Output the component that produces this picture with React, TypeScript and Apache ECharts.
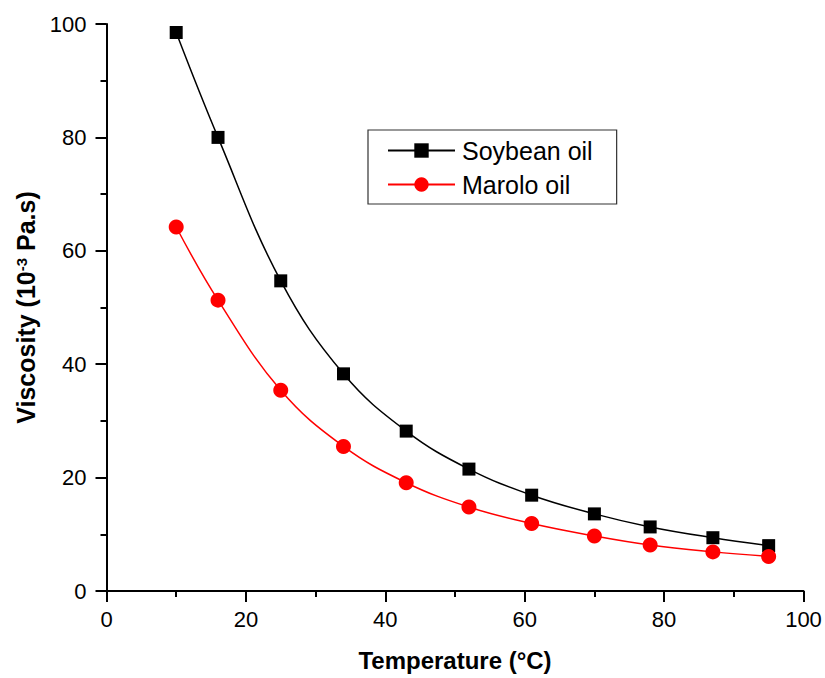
import React, { useEffect, useRef } from "react";
import * as echarts from "echarts";

const temperatures = [10, 16, 25, 34, 43, 52, 61, 70, 78, 87, 95];
const soybeanOil = [98.5, 80.0, 54.7, 38.3, 28.2, 21.5, 16.9, 13.6, 11.3, 9.4, 8.0];
const maroloOil = [64.2, 51.3, 35.4, 25.5, 19.1, 14.8, 11.9, 9.7, 8.1, 6.9, 6.1];
const seriesNames = ["Soybean oil", "Marolo oil"];

export default function App() {
  const ref = useRef<HTMLDivElement>(null);
  useEffect(() => {
    if (!ref.current) return;
    const chart = echarts.init(ref.current, null, { renderer: "svg" });
    const font = "Liberation Sans, Arial, sans-serif";
    chart.setOption({
      animation: false,
      backgroundColor: "#ffffff",
      grid: { left: 106.5, right: 21.5, top: 24, bottom: 87, containLabel: false },
      legend: {
        left: 368,
        top: 130,
        orient: "vertical",
        itemWidth: 67,
        itemHeight: 18,
        itemGap: 9,
        padding: [8, 24, 7, 19],
        borderColor: "#333",
        borderWidth: 1.2,
        borderRadius: 0,
        textStyle: { fontFamily: font, fontSize: 25, lineHeight: 25, color: "#000", padding: [0, 0, 0, 2] },
        data: seriesNames,
      },
      xAxis: {
        type: "value",
        min: 0,
        max: 100,
        interval: 20,
        name: "Temperature (°C)",
        nameLocation: "middle",
        nameGap: 57,
        nameTextStyle: { fontFamily: font, fontSize: 24, fontWeight: "bold", color: "#000" },
        axisLine: { show: true, onZero: false, lineStyle: { color: "#000", width: 2 } },
        axisTick: { show: true, inside: false, length: 11, lineStyle: { width: 2, color: "#000" } },
        minorTick: { show: true, splitNumber: 2, length: 6, lineStyle: { width: 2, color: "#000" } },
        axisLabel: { fontFamily: font, fontSize: 22, color: "#000", margin: 17 },
        splitLine: { show: false },
      },
      yAxis: {
        type: "value",
        min: 0,
        max: 100,
        interval: 20,
        name: "{a|Viscosity (10}{s|-3}{a| Pa.s)}",
        nameLocation: "middle",
        nameGap: 68,
        nameRotate: 90,
        nameTextStyle: {
          rich: {
            a: { fontFamily: font, fontSize: 25, fontWeight: "bold", color: "#000" },
            s: { fontFamily: font, fontSize: 15, fontWeight: "bold", color: "#000", verticalAlign: "top", padding: [0, 0, 10, 0] },
          },
        },
        axisLine: { show: true, onZero: false, lineStyle: { color: "#000", width: 2 } },
        axisTick: { show: true, inside: false, length: 11, lineStyle: { width: 2, color: "#000" } },
        minorTick: { show: true, splitNumber: 2, length: 6, lineStyle: { width: 2, color: "#000" } },
        axisLabel: { fontFamily: font, fontSize: 22, color: "#000", margin: 20 },
        splitLine: { show: false },
      },
      series: [
        {
          name: seriesNames[0],
          type: "line",
          data: temperatures.map((t, i) => [t, soybeanOil[i]]),
          smooth: 0.4,
          symbol: "rect",
          symbolSize: 13,
          itemStyle: { color: "#000" },
          lineStyle: { color: "#000", width: 1.5 },
          z: 3,
        },
        {
          name: seriesNames[1],
          type: "line",
          data: temperatures.map((t, i) => [t, maroloOil[i]]),
          smooth: 0.4,
          symbol: "circle",
          symbolSize: 15,
          itemStyle: { color: "#ff0000" },
          lineStyle: { color: "#ff0000", width: 1.5 },
          z: 4,
        },
      ],
    });
    return () => chart.dispose();
  }, []);
  return <div ref={ref} style={{ position: "absolute", left: 0, top: 0, width: 825, height: 678 }} />;
}
